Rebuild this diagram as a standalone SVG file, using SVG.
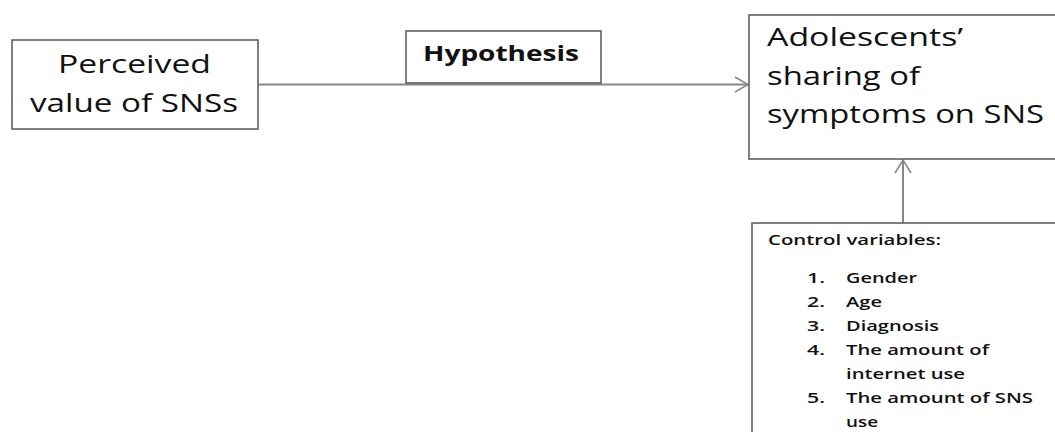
<svg xmlns="http://www.w3.org/2000/svg" width="1055" height="432" viewBox="0 0 1055 432">
<style>
.box{fill:#fff;stroke:#555;stroke-width:1.5}
.big{font-family:"Open Sans","Liberation Sans",sans-serif;font-size:26px;fill:#111}
.hyp{font-family:"Open Sans","Liberation Sans",sans-serif;font-size:21px;font-weight:bold;fill:#111}
.sm{font-family:"Open Sans","Liberation Sans",sans-serif;font-size:14px;font-weight:600;fill:#111}
.conn{stroke:#888;stroke-width:2;fill:none}
.head{stroke:#888;stroke-width:1.6;fill:none}
</style>
<rect width="1055" height="432" fill="#fff"/>
<g id="connectors">
<line class="conn" x1="258" y1="84.5" x2="748" y2="84.5"/>
<polyline class="head" points="735,77 748,84.5 735,92"/>
<line class="conn" x1="903" y1="223" x2="903" y2="160"/>
<polyline class="head" points="895,173 903,160 911,173"/>
</g>
<g id="perceived">
<rect class="box" x="12" y="40" width="246" height="89"/>
<text class="big" x="58" y="73" textLength="153" lengthAdjust="spacingAndGlyphs">Perceived</text>
<text class="big" x="30" y="112" textLength="208" lengthAdjust="spacingAndGlyphs">value of SNSs</text>
</g>
<g id="hypothesis">
<rect class="box" x="406" y="31" width="195" height="52"/>
<text class="hyp" x="423" y="61" textLength="156" lengthAdjust="spacingAndGlyphs">Hypothesis</text>
</g>
<g id="adolescents">
<rect class="box" x="749" y="15" width="320" height="144"/>
<text class="big" x="767" y="46" textLength="196" lengthAdjust="spacingAndGlyphs">Adolescents’</text>
<text class="big" x="767" y="85" textLength="153" lengthAdjust="spacingAndGlyphs">sharing of</text>
<text class="big" x="767" y="123" textLength="277" lengthAdjust="spacingAndGlyphs">symptoms on SNS</text>
</g>
<g id="control">
<rect class="box" x="752" y="223" width="320" height="230"/>
<text class="sm" x="768" y="245" textLength="173" lengthAdjust="spacingAndGlyphs">Control variables:</text>
<text class="sm" x="807" y="283" textLength="18" lengthAdjust="spacingAndGlyphs">1.</text><text class="sm" x="846" y="283" textLength="71" lengthAdjust="spacingAndGlyphs">Gender</text>
<text class="sm" x="807" y="307" textLength="18" lengthAdjust="spacingAndGlyphs">2.</text><text class="sm" x="846" y="307" textLength="36" lengthAdjust="spacingAndGlyphs">Age</text>
<text class="sm" x="807" y="331" textLength="18" lengthAdjust="spacingAndGlyphs">3.</text><text class="sm" x="846" y="331" textLength="93" lengthAdjust="spacingAndGlyphs">Diagnosis</text>
<text class="sm" x="807" y="355" textLength="18" lengthAdjust="spacingAndGlyphs">4.</text><text class="sm" x="846" y="355" textLength="143" lengthAdjust="spacingAndGlyphs">The amount of</text>
<text class="sm" x="846" y="379" textLength="119" lengthAdjust="spacingAndGlyphs">internet use</text>
<text class="sm" x="807" y="403" textLength="18" lengthAdjust="spacingAndGlyphs">5.</text><text class="sm" x="846" y="403" textLength="187" lengthAdjust="spacingAndGlyphs">The amount of SNS</text>
<text class="sm" x="846" y="427" textLength="32" lengthAdjust="spacingAndGlyphs">use</text>
</g>
</svg>
